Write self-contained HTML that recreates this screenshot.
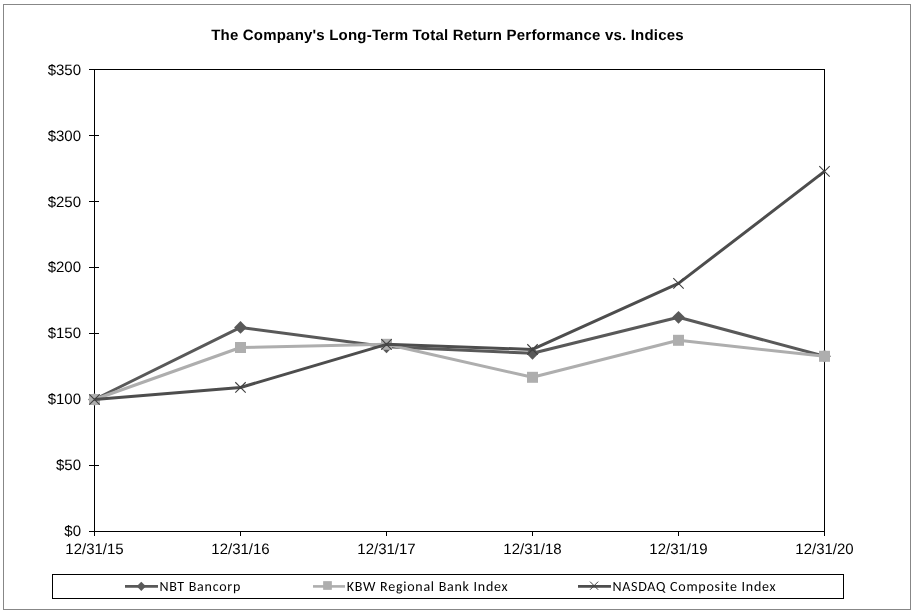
<!DOCTYPE html>
<html><head><meta charset="utf-8"><title>Long-Term Total Return Performance</title>
<style>
html,body{margin:0;padding:0;background:#fff;}
body{width:916px;height:614px;overflow:hidden;}
svg{display:block;filter:grayscale(100%);}
text{text-rendering:geometricPrecision;}
.t{font-family:"Liberation Sans",Arial,sans-serif;font-weight:bold;font-size:15px;letter-spacing:0.2px;fill:#000;}
.a{font-family:"Liberation Sans",Arial,sans-serif;font-size:15px;fill:#000;}
.l{font-family:Carlito,"Liberation Sans",sans-serif;font-size:14px;fill:#000;}
</style></head><body>
<svg width="916" height="614" viewBox="0 0 916 614">
<rect x="3.5" y="4.5" width="907" height="605" fill="none" stroke="#878787" stroke-width="1"/>
<text x="447.5" y="40" text-anchor="middle" class="t">The Company's Long-Term Total Return Performance vs. Indices</text>
<rect x="94.5" y="69.5" width="730" height="462" fill="none" stroke="#000" stroke-width="1"/>
<line x1="89" y1="531.5" x2="99" y2="531.5" stroke="#000" stroke-width="1"/>
<text x="81" y="536" text-anchor="end" class="a">$0</text>
<line x1="89" y1="465.5" x2="99" y2="465.5" stroke="#000" stroke-width="1"/>
<text x="81" y="470" text-anchor="end" class="a">$50</text>
<line x1="89" y1="399.5" x2="99" y2="399.5" stroke="#000" stroke-width="1"/>
<text x="81" y="404" text-anchor="end" class="a">$100</text>
<line x1="89" y1="333.5" x2="99" y2="333.5" stroke="#000" stroke-width="1"/>
<text x="81" y="338" text-anchor="end" class="a">$150</text>
<line x1="89" y1="267.5" x2="99" y2="267.5" stroke="#000" stroke-width="1"/>
<text x="81" y="272" text-anchor="end" class="a">$200</text>
<line x1="89" y1="201.5" x2="99" y2="201.5" stroke="#000" stroke-width="1"/>
<text x="81" y="207" text-anchor="end" class="a">$250</text>
<line x1="89" y1="135.5" x2="99" y2="135.5" stroke="#000" stroke-width="1"/>
<text x="81" y="141" text-anchor="end" class="a">$300</text>
<line x1="89" y1="69.5" x2="99" y2="69.5" stroke="#000" stroke-width="1"/>
<text x="81" y="75" text-anchor="end" class="a">$350</text>
<line x1="94.5" y1="531" x2="94.5" y2="536" stroke="#000" stroke-width="1"/>
<text x="94.5" y="554" text-anchor="middle" class="a">12/31/15</text>
<line x1="240.5" y1="531" x2="240.5" y2="536" stroke="#000" stroke-width="1"/>
<text x="240.5" y="554" text-anchor="middle" class="a">12/31/16</text>
<line x1="386.5" y1="531" x2="386.5" y2="536" stroke="#000" stroke-width="1"/>
<text x="386.5" y="554" text-anchor="middle" class="a">12/31/17</text>
<line x1="532.5" y1="531" x2="532.5" y2="536" stroke="#000" stroke-width="1"/>
<text x="532.5" y="554" text-anchor="middle" class="a">12/31/18</text>
<line x1="678.5" y1="531" x2="678.5" y2="536" stroke="#000" stroke-width="1"/>
<text x="678.5" y="554" text-anchor="middle" class="a">12/31/19</text>
<line x1="824.5" y1="531" x2="824.5" y2="536" stroke="#000" stroke-width="1"/>
<text x="824.5" y="554" text-anchor="middle" class="a">12/31/20</text>
<polyline points="94.50,399.50 240.50,327.45 386.50,346.80 532.50,353.30 678.50,317.30 824.50,356.20" fill="none" stroke="#595959" stroke-width="3" stroke-linejoin="round"/>
<path d="M94.50,393.10 L100.90,399.50 L94.50,405.90 L88.10,399.50 Z" fill="#595959"/>
<path d="M240.50,321.05 L246.90,327.45 L240.50,333.85 L234.10,327.45 Z" fill="#595959"/>
<path d="M386.50,340.40 L392.90,346.80 L386.50,353.20 L380.10,346.80 Z" fill="#595959"/>
<path d="M532.50,346.90 L538.90,353.30 L532.50,359.70 L526.10,353.30 Z" fill="#595959"/>
<path d="M678.50,310.90 L684.90,317.30 L678.50,323.70 L672.10,317.30 Z" fill="#595959"/>
<path d="M824.50,349.80 L830.90,356.20 L824.50,362.60 L818.10,356.20 Z" fill="#595959"/>
<polyline points="94.50,399.50 240.50,347.50 386.50,344.30 532.50,377.30 678.50,340.30 824.50,356.30" fill="none" stroke="#aeaeae" stroke-width="3" stroke-linejoin="round"/>
<rect x="89.00" y="394.00" width="11" height="11" fill="#aeaeae"/>
<rect x="235.00" y="342.00" width="11" height="11" fill="#aeaeae"/>
<rect x="381.00" y="338.80" width="11" height="11" fill="#aeaeae"/>
<rect x="527.00" y="371.80" width="11" height="11" fill="#aeaeae"/>
<rect x="673.00" y="334.80" width="11" height="11" fill="#aeaeae"/>
<rect x="819.00" y="350.80" width="11" height="11" fill="#aeaeae"/>
<polyline points="94.50,399.50 240.50,387.45 386.50,344.35 532.50,349.45 678.50,283.40 824.50,171.40" fill="none" stroke="#4d4d4d" stroke-width="3" stroke-linejoin="round"/>
<path d="M89.30,394.30 L99.70,404.70 M99.70,394.30 L89.30,404.70" stroke="#404040" stroke-width="1.1" fill="none"/>
<path d="M235.30,382.25 L245.70,392.65 M245.70,382.25 L235.30,392.65" stroke="#404040" stroke-width="1.1" fill="none"/>
<path d="M381.30,339.15 L391.70,349.55 M391.70,339.15 L381.30,349.55" stroke="#404040" stroke-width="1.1" fill="none"/>
<path d="M527.30,344.25 L537.70,354.65 M537.70,344.25 L527.30,354.65" stroke="#404040" stroke-width="1.1" fill="none"/>
<path d="M673.30,278.20 L683.70,288.60 M683.70,278.20 L673.30,288.60" stroke="#404040" stroke-width="1.1" fill="none"/>
<path d="M819.30,166.20 L829.70,176.60 M829.70,166.20 L819.30,176.60" stroke="#404040" stroke-width="1.1" fill="none"/>
<rect x="52.5" y="574.5" width="791" height="24" fill="none" stroke="#000" stroke-width="1"/>
<line x1="125" y1="586.4" x2="158" y2="586.4" stroke="#595959" stroke-width="2.6"/>
<path d="M141.30,581.70 L145.90,586.30 L141.30,590.90 L136.70,586.30 Z" fill="#595959"/>
<text x="159.5" y="591" class="l" textLength="80.8" lengthAdjust="spacing">NBT Bancorp</text>
<line x1="313" y1="586.4" x2="345" y2="586.4" stroke="#aeaeae" stroke-width="2.6"/>
<rect x="323.15" y="581.15" width="8.7" height="8.7" fill="#aeaeae"/>
<text x="346.8" y="591" class="l" textLength="160.8" lengthAdjust="spacing">KBW Regional Bank Index</text>
<line x1="578" y1="586.4" x2="611" y2="586.4" stroke="#4d4d4d" stroke-width="2.6"/>
<path d="M590.00,581.60 L598.20,589.80 M598.20,581.60 L590.00,589.80" stroke="#404040" stroke-width="1" fill="none"/>
<text x="612.4" y="591" class="l" textLength="163.2" lengthAdjust="spacing">NASDAQ Composite Index</text>
</svg>
</body></html>
